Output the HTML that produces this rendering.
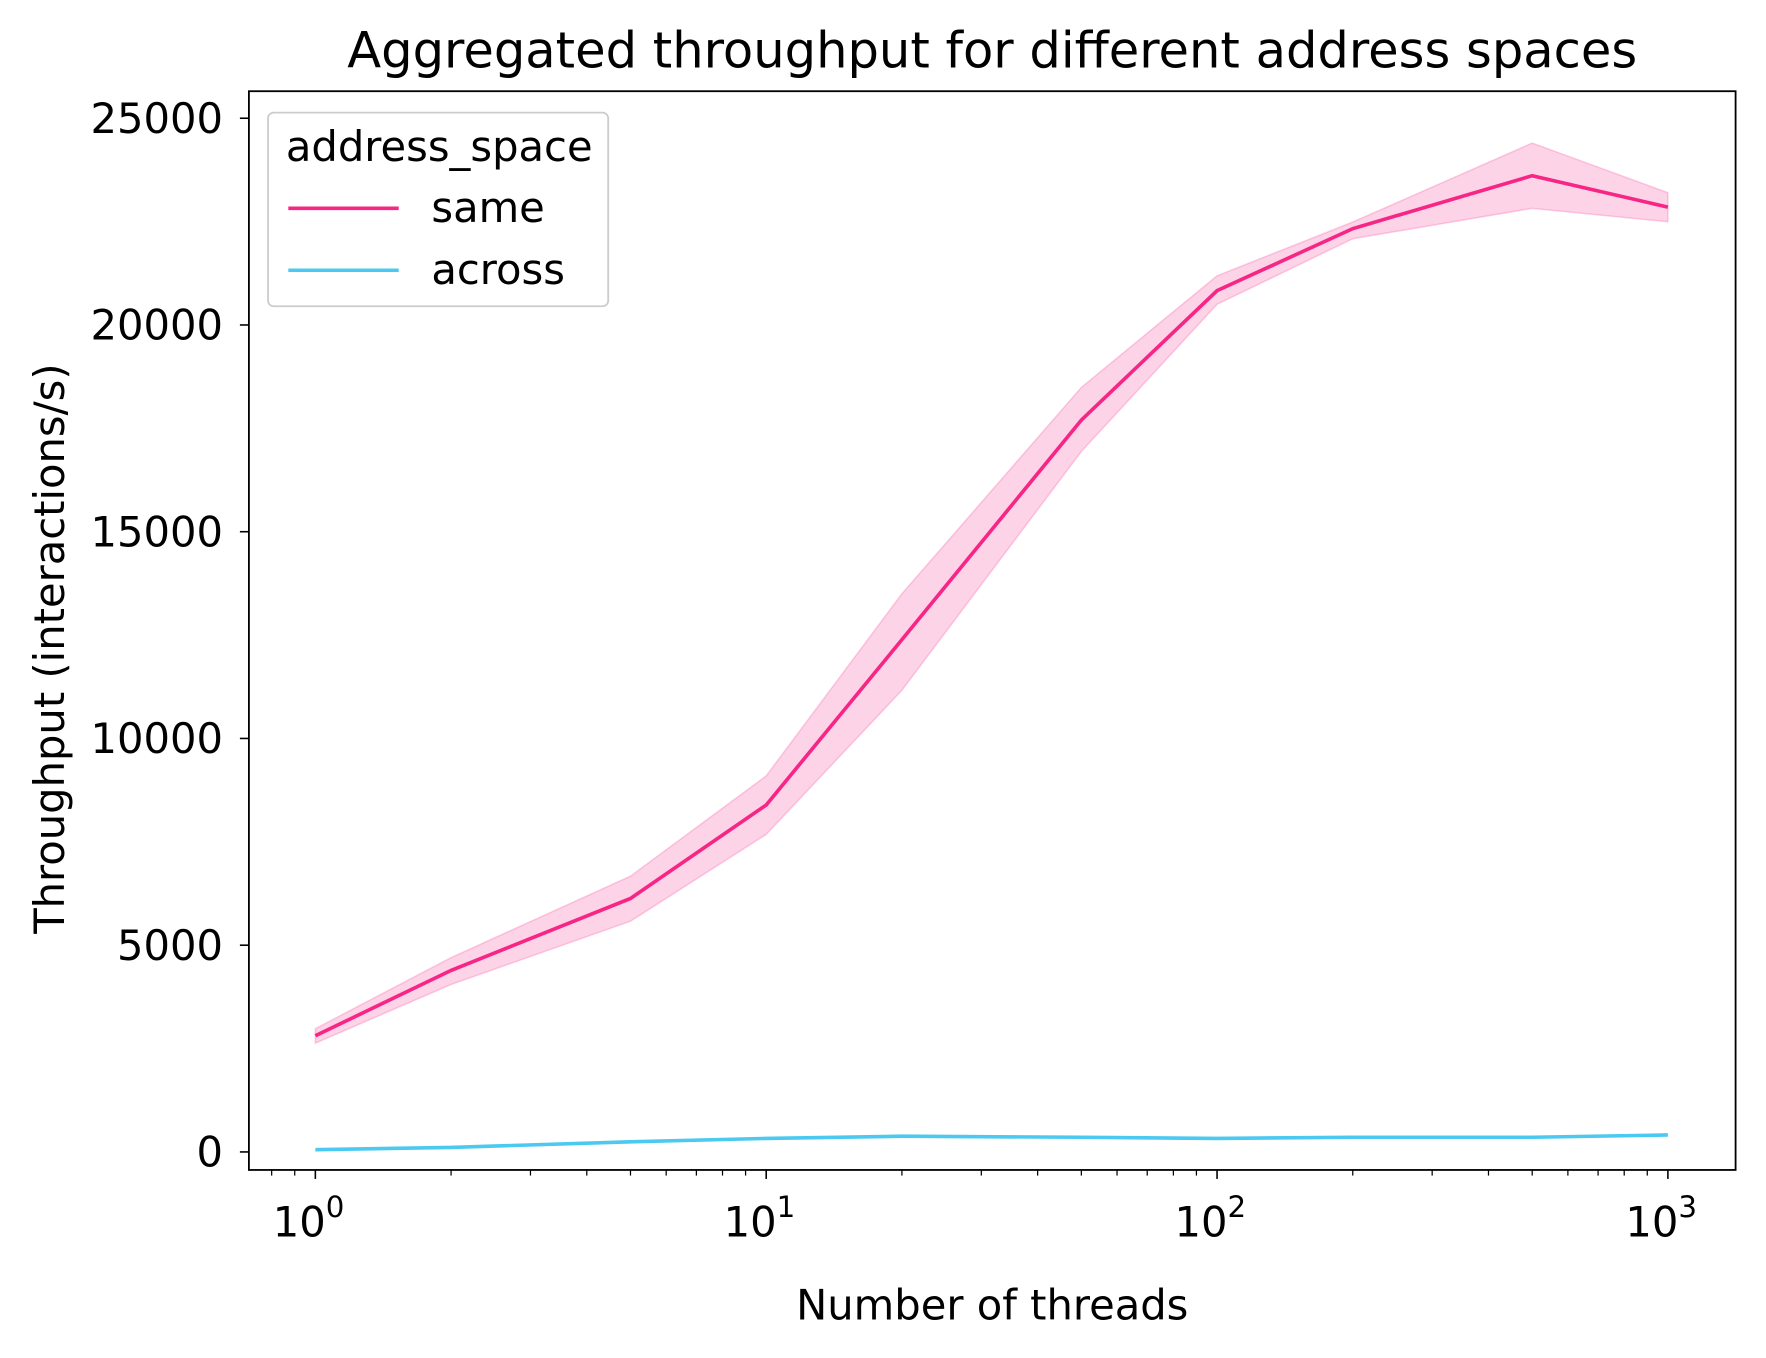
<!DOCTYPE html>
<html><head><meta charset="utf-8"><style>
body{margin:0;background:#fff;}
svg{display:block;font-family:"DejaVu Sans","Liberation Sans",sans-serif;}
</style></head><body>
<svg id="chart" width="1766" height="1358" viewBox="0 0 1568 1206" preserveAspectRatio="none" xmlns="http://www.w3.org/2000/svg">
<rect width="1568" height="1206" fill="#fff"/>
<text x="881" y="60" font-size="30" text-anchor="middle" fill="#000" style="font-size:44px">Aggregated throughput for different address spaces</text>
<text x="881" y="1172" text-anchor="middle" fill="#000" style="font-size:37px">Number of threads</text>
<text transform="translate(57,576) rotate(-90)" text-anchor="middle" fill="#000" style="font-size:37px">Throughput (interactions/s)</text>
<g id="plot"></g>
<rect x="221" y="81" width="1320" height="958" fill="none" stroke="#000" stroke-width="1.6"/>
<g>
<rect x="238" y="100" width="302" height="172" rx="5" fill="#fff" fill-opacity="0.8" stroke="#ccc" stroke-width="1.6"/>
<text x="390" y="143" text-anchor="middle" style="font-size:37px">address_space</text>
<line x1="256" y1="185" x2="354" y2="185" stroke="#f72585" stroke-width="3.2"/>
<text x="383" y="197" style="font-size:37px">same</text>
<line x1="256" y1="240" x2="354" y2="240" stroke="#4cc9f0" stroke-width="3.2"/>
<text x="383" y="252" style="font-size:37px">across</text>
</g>
</svg>
<script>
const threads=[1,2,5,10,20,50,100,200,500,1000];
const sameMean=[2810,4390,6130,8390,12390,17700,20830,22330,23610,22850];
const sameUpper=[2980,4700,6670,9095,13500,18490,21190,22490,24400,23200];
const sameLower=[2630,4050,5580,7680,11165,16940,20500,22085,22820,22495];
const acrossMean=[55,110,245,327,380,355,327,355,355,410];
const yTicks=[0,5000,10000,15000,20000,25000];
const xDecades=[0,1,2,3];

const NS="http://www.w3.org/2000/svg";
const plot=document.getElementById('plot');
const svg=document.getElementById('chart');
const xs=v=>280+Math.log10(v)*400.3;
const ys=v=>1023-v*(918/25000);
function mk(tag,attrs,parent){const e=document.createElementNS(NS,tag);for(const k in attrs)e.setAttribute(k,attrs[k]);(parent||plot).appendChild(e);return e;}

yTicks.forEach(t=>{
  const y=ys(t);
  const l=mk('line',{x1:213,x2:221,y1:y,y2:y,stroke:'#000','stroke-width':1.4},svg);
  
  
  const tx=mk('text',{x:198,y:y+13,'text-anchor':'end',style:'font-size:37px'},svg);
  tx.textContent=String(t);
  
  
});
for(let d=-1;d<=3;d++){
  for(let m=2;m<=9;m++){
    const v=m*Math.pow(10,d);const x=xs(v);
    if(x<221||x>1541)continue;
    const l=mk('line',{x1:x,x2:x,y1:1039,y2:1044,stroke:'#000','stroke-width':1.1},svg);
    
    
  }
}
xDecades.forEach(d=>{
  const x=xs(Math.pow(10,d));
  const l=mk('line',{x1:x,x2:x,y1:1039,y2:1047,stroke:'#000','stroke-width':1.4},svg);
  
  
  const tx=mk('text',{x:x-6,y:1098,'text-anchor':'middle',style:'font-size:37px'},svg);
  tx.innerHTML='10<tspan dy="-17" style="font-size:26px">'+d+'</tspan>';
  
  
});
let pts=threads.map((t,i)=>xs(t)+','+ys(sameUpper[i]));
pts=pts.concat(threads.map((t,i)=>xs(t)+','+ys(sameLower[i])).reverse());
const band=mk('polygon',{points:pts.join(' '),fill:'#f72585','fill-opacity':0.2,stroke:'#f72585','stroke-opacity':0.2,'stroke-width':1.4});


const ls=mk('polyline',{points:threads.map((t,i)=>xs(t)+','+ys(sameMean[i])).join(' '),fill:'none',stroke:'#f72585','stroke-width':3.2});


const la=mk('polyline',{points:threads.map((t,i)=>xs(t)+','+ys(acrossMean[i])).join(' '),fill:'none',stroke:'#4cc9f0','stroke-width':3.2});


</script>
</body></html>
